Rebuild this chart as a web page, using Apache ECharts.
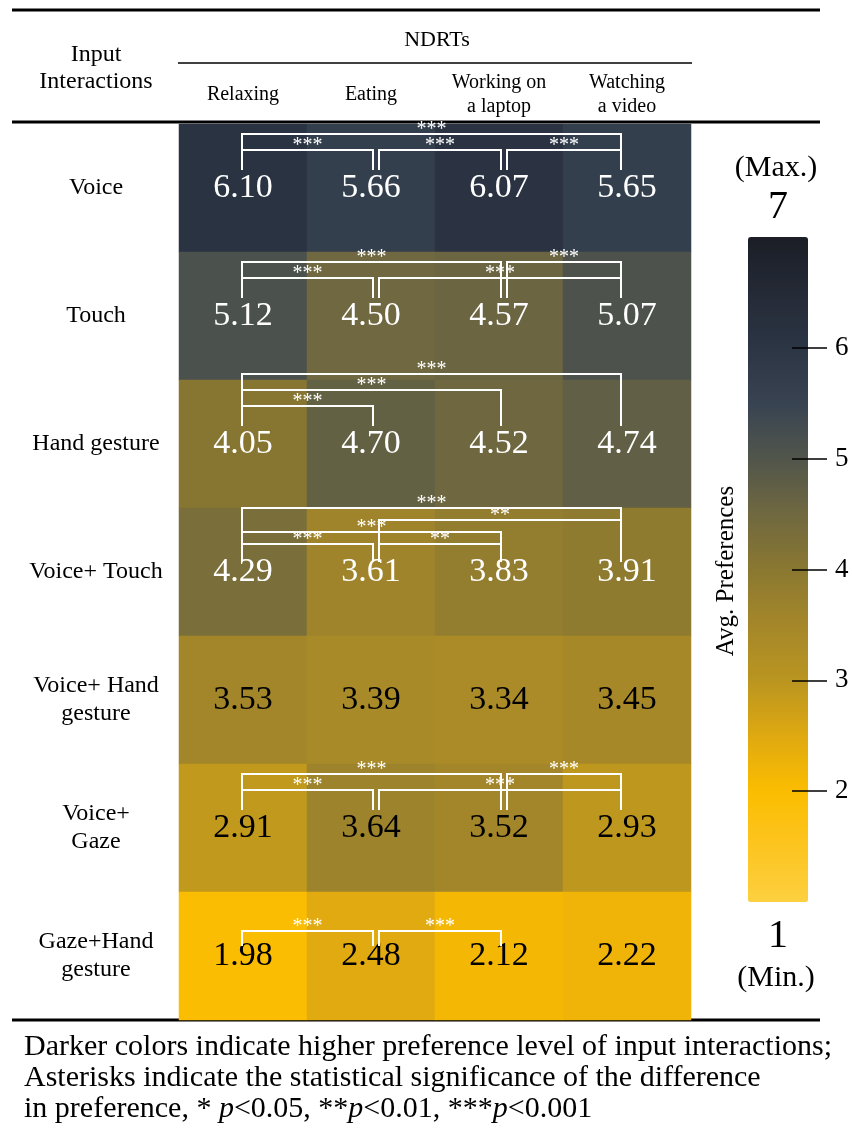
<!DOCTYPE html>
<html>
<head>
<meta charset="utf-8">
<script src="https://cdn.jsdelivr.net/npm/echarts@6/dist/echarts.min.js"></script>
<style>
html, body { margin: 0; padding: 0; background: #fff; }
#main { width: 852px; height: 1135px; }
</style>
</head>
<body>
<div id="main"></div>
<script>
var tasks = ['Relaxing', 'Eating', 'Working on\na laptop', 'Watching\na video'];
var interactions = ['Voice', 'Touch', 'Hand gesture', 'Voice+ Touch', 'Voice+ Hand\ngesture', 'Voice+\nGaze', 'Gaze+Hand\ngesture'];
var prefs = [
    [6.10, 5.66, 6.07, 5.65],
    [5.12, 4.50, 4.57, 5.07],
    [4.05, 4.70, 4.52, 4.74],
    [4.29, 3.61, 3.83, 3.91],
    [3.53, 3.39, 3.34, 3.45],
    [2.91, 3.64, 3.52, 2.93],
    [1.98, 2.48, 2.12, 2.22]
];
// [row, task a, task b, bracket level (0 = lowest), stars]
var sigPairs = [
    [0, 0, 3, 1, 3], [0, 0, 1, 0, 3], [0, 1, 2, 0, 3], [0, 2, 3, 0, 3],
    [1, 0, 2, 1, 3], [1, 2, 3, 1, 3], [1, 0, 1, 0, 3], [1, 1, 3, 0, 3],
    [2, 0, 3, 2, 3], [2, 0, 2, 1, 3], [2, 0, 1, 0, 3],
    [3, 0, 3, 3, 3], [3, 1, 3, 2, 2], [3, 0, 2, 1, 3], [3, 0, 1, 0, 3], [3, 1, 2, 0, 2],
    [5, 0, 2, 1, 3], [5, 2, 3, 1, 3], [5, 0, 1, 0, 3], [5, 1, 3, 0, 3],
    [6, 0, 1, 0, 3], [6, 1, 2, 0, 3]
];
var scaleTicks = [2, 3, 4, 5, 6];

var serif = '"Liberation Serif", "Times New Roman", serif';
var colorStops = ['#fdd040', '#fcc520', '#fbbd00', '#dfa911', '#b99520', '#a5872a', '#8a7831',
    '#6f6840', '#51564b', '#384352', '#2c3544', '#242a36', '#1b1e26'];

var cells = [];
prefs.forEach(function (row, r) {
    row.forEach(function (v, c) {
        cells.push({ value: [c, r, v], label: { color: r < 4 ? '#fff' : '#000' } });
    });
});

var maxLevel = {};
sigPairs.forEach(function (p) {
    maxLevel[p[0]] = Math.max(maxLevel[p[0]] || 0, p[3]);
});

function drawBracket(params, api) {
    var a = api.value(0), row = api.value(1), b = api.value(2), lvl = api.value(3), n = api.value(4);
    var pa = api.coord([a, row]), pb = api.coord([b, row]);
    var top = maxLevel[row];
    var gap = top >= 3 ? 12 : 16;
    var base = top === 0 ? 25 : (top >= 3 ? 28 : 38);
    var y = pa[1] - base - gap * lvl;
    var yLeg = pa[1] - (base >= 38 ? 18 : 10);
    var xl = pa[0] + (a > 0 ? 8 : -1);
    var xr = pb[0] + (b < tasks.length - 1 ? 2 : -6);
    return {
        type: 'group',
        children: [
            { type: 'polyline', shape: { points: [[xl, yLeg], [xl, y], [xr, y], [xr, yLeg]] },
              style: { stroke: '#fff', lineWidth: 2, fill: null } },
            { type: 'text', x: (xl + xr) / 2, y: y + 6,
              style: { text: new Array(n + 1).join('*'), fill: '#fff', fontSize: 20, fontFamily: serif,
                       align: 'center', verticalAlign: 'bottom' } }
        ]
    };
}

var myChart = echarts.init(document.getElementById('main'));
myChart.setOption({
    backgroundColor: '#fff',
    animation: false,
    textStyle: { fontFamily: serif },
    grid: [
        { left: 179, top: 124, width: 512, height: 896, outerBoundsMode: 'none' },
        { left: 748, top: 237, width: 79, height: 665, outerBoundsMode: 'none' }
    ],
    xAxis: [
        {
            type: 'category', data: tasks, position: 'top', gridIndex: 0,
            axisLine: { show: false }, axisTick: { show: false }, splitLine: { show: false },
            axisLabel: { fontFamily: serif, fontSize: 20, color: '#000', margin: 29, verticalAlign: 'middle', lineHeight: 24 }
        },
        { type: 'value', gridIndex: 1, show: false }
    ],
    yAxis: [
        {
            type: 'category', data: interactions, inverse: true, gridIndex: 0,
            axisLine: { show: false }, axisTick: { show: false }, splitLine: { show: false },
            axisLabel: { fontFamily: serif, fontSize: 24, color: '#000', margin: 83, align: 'center', lineHeight: 28 }
        },
        {
            type: 'value', gridIndex: 1, position: 'right', min: 1, max: 7, interval: 1, z: 10,
            axisLine: { show: false, onZero: false }, splitLine: { show: false },
            axisTick: { inside: true, length: 35, customValues: scaleTicks, lineStyle: { color: '#000', width: 1.5 } },
            axisLabel: { customValues: scaleTicks, fontFamily: serif, fontSize: 27, color: '#000', margin: 8 }
        }
    ],
    visualMap: {
        type: 'continuous', seriesIndex: 0, min: 1, max: 7, orient: 'vertical', z: 2,
        left: 748, top: 237, itemWidth: 60, itemHeight: 665, padding: 0,
        calculable: false, text: null, inRange: { color: colorStops }
    },
    series: [
        {
            type: 'heatmap', data: cells,
            label: {
                show: true, fontSize: 34, fontFamily: serif,
                formatter: function (p) { return p.value[2].toFixed(2); }
            },
            emphasis: { disabled: true }
        },
        {
            type: 'custom', renderItem: drawBracket, silent: true, z: 5,
            encode: { x: 0, y: 1 },
            data: sigPairs.map(function (p) { return [p[1], p[0], p[2], p[3], p[4]]; })
        }
    ],
    graphic: [
        { type: 'line', shape: { x1: 12, y1: 10, x2: 820, y2: 10 }, style: { stroke: '#000', lineWidth: 3 } },
        { type: 'line', shape: { x1: 12, y1: 122, x2: 820, y2: 122 }, style: { stroke: '#000', lineWidth: 3 } },
        { type: 'line', shape: { x1: 12, y1: 1020, x2: 820, y2: 1020 }, style: { stroke: '#000', lineWidth: 3 } },
        { type: 'line', shape: { x1: 178, y1: 63, x2: 692, y2: 63 }, style: { stroke: '#000', lineWidth: 1.5 } },
        { type: 'text', x: 437, y: 40, style: { text: 'NDRTs', fontSize: 22, fontFamily: serif, fill: '#000', align: 'center', verticalAlign: 'middle' } },
        { type: 'text', x: 96, y: 68, style: { text: 'Input\nInteractions', fontSize: 24, lineHeight: 27, fontFamily: serif, fill: '#000', align: 'center', verticalAlign: 'middle' } },
        { type: 'text', x: 776, y: 168, style: { text: '(Max.)', fontSize: 30, fontFamily: serif, fill: '#000', align: 'center', verticalAlign: 'middle' } },
        { type: 'text', x: 778, y: 207, style: { text: '7', fontSize: 40, fontFamily: serif, fill: '#000', align: 'center', verticalAlign: 'middle' } },
        { type: 'text', x: 778, y: 936, style: { text: '1', fontSize: 40, fontFamily: serif, fill: '#000', align: 'center', verticalAlign: 'middle' } },
        { type: 'text', x: 776, y: 978, style: { text: '(Min.)', fontSize: 30, fontFamily: serif, fill: '#000', align: 'center', verticalAlign: 'middle' } },
        { type: 'text', x: 726, y: 571, rotation: Math.PI / 2, style: { text: 'Avg. Preferences', fontSize: 25, fontFamily: serif, fill: '#000', align: 'center', verticalAlign: 'middle' } },
        {
            type: 'text', x: 24, y: 1032,
            style: {
                text: 'Darker colors indicate higher preference level of input interactions;\n' +
                      'Asterisks indicate the statistical significance of the difference\n' +
                      'in preference, * {i|p}<0.05, **{i|p}<0.01, ***{i|p}<0.001',
                fontSize: 30, lineHeight: 31, fontFamily: serif, fill: '#000',
                rich: { i: { fontStyle: 'italic', fontSize: 30, fontFamily: serif, fill: '#000' } }
            }
        }
    ]
});
</script>
</body>
</html>
